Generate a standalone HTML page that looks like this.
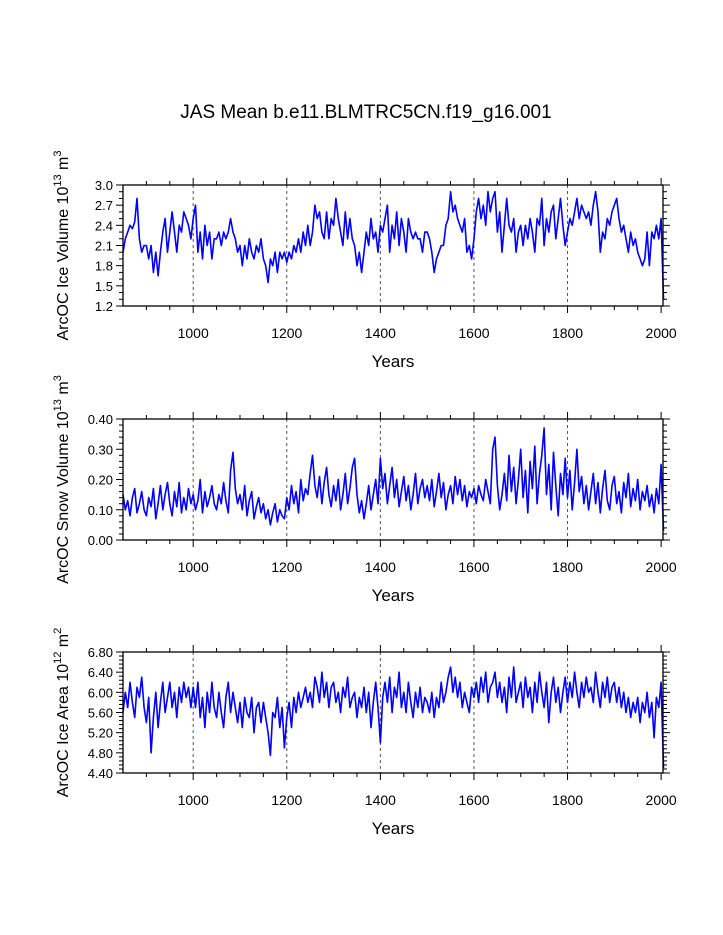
<!DOCTYPE html>
<html><head><meta charset="utf-8">
<style>
html,body{margin:0;padding:0;background:#fff;}
svg{display:block;font-family:"Liberation Sans",sans-serif;}
</style></head>
<body>
<svg id="chart" width="723" height="935" viewBox="0 0 723 935">
<text x="366" y="118" font-size="19" text-anchor="middle">JAS Mean b.e11.BLMTRC5CN.f19_g16.001</text>
</svg>
<script>
const startYear = 850;
const stepYears = 5;
const iceVolume = [
2.0,2.2,2.3,2.4,2.35,2.45,2.8,2.2,2.0,2.1,
2.1,1.9,2.1,1.7,2.0,1.65,2.0,2.3,2.5,2.0,
2.3,2.6,2.3,2.0,2.4,2.3,2.6,2.5,2.4,2.2,
2.5,2.7,2.0,2.3,1.9,2.4,2.1,2.3,1.9,2.2,
2.2,2.3,2.1,2.3,2.2,2.3,2.5,2.3,2.2,2.0,
2.1,1.8,2.1,1.9,2.2,2.0,1.9,2.1,2.0,2.2,
1.9,1.8,1.55,1.9,1.8,2.0,1.7,2.0,1.9,2.0,
1.85,2.0,1.9,2.1,2.0,2.2,2.0,2.3,2.1,2.4,
2.1,2.3,2.7,2.5,2.6,2.3,2.2,2.6,2.2,2.5,
2.4,2.8,2.5,2.3,2.1,2.6,2.2,2.5,2.2,2.1,
1.8,2.0,1.7,2.0,2.3,2.1,2.5,2.2,2.3,2.0,
2.4,2.3,2.5,2.7,2.0,2.4,2.2,2.6,2.1,2.5,
2.3,2.0,2.5,2.3,2.2,2.3,2.2,2.2,2.0,2.3,
2.3,2.2,2.0,1.7,1.9,2.0,2.1,2.1,2.4,2.5,
2.9,2.6,2.7,2.5,2.4,2.3,2.5,2.0,2.1,1.9,
2.2,2.6,2.8,2.5,2.7,2.4,2.9,2.6,2.8,2.9,
2.3,2.6,2.0,2.4,2.8,2.4,2.3,2.5,2.0,2.3,
2.4,2.1,2.4,2.2,2.5,2.3,2.0,2.5,2.4,2.8,
2.1,2.5,2.3,2.6,2.7,2.2,2.5,2.8,2.4,2.1,
2.3,2.5,2.4,2.6,2.8,2.5,2.7,2.6,2.5,2.6,
2.4,2.7,2.9,2.6,2.0,2.3,2.2,2.5,2.4,2.6,
2.7,2.8,2.5,2.3,2.4,2.2,2.0,2.3,2.1,2.2,
2.0,1.9,1.8,1.9,2.3,1.8,2.3,2.2,2.4,2.2,
2.5,1.3];
const snowVolume = [
.15,.10,.13,.08,.14,.17,.09,.12,.16,.10,
.08,.14,.11,.17,.07,.12,.18,.10,.15,.19,
.12,.08,.16,.11,.19,.09,.14,.10,.17,.12,
.15,.10,.13,.20,.09,.16,.11,.14,.18,.12,
.10,.15,.12,.19,.13,.09,.23,.29,.17,.12,
.15,.10,.18,.08,.13,.16,.07,.11,.14,.09,
.12,.07,.10,.05,.09,.12,.06,.10,.08,.07,
.14,.10,.18,.12,.16,.09,.20,.13,.17,.15,
.22,.28,.18,.14,.21,.12,.19,.24,.15,.11,
.18,.13,.20,.10,.15,.22,.12,.17,.24,.27,
.15,.09,.13,.07,.12,.18,.10,.15,.20,.12,
.27,.17,.22,.12,.18,.24,.14,.20,.11,.16,
.21,.13,.18,.10,.15,.22,.12,.17,.20,.14,
.18,.13,.20,.11,.16,.22,.14,.19,.10,.15,
.18,.12,.21,.15,.20,.13,.18,.11,.16,.14,
.17,.12,.18,.15,.13,.20,.16,.12,.30,.34,
.18,.10,.15,.22,.13,.28,.16,.24,.12,.20,
.30,.14,.23,.09,.26,.17,.31,.12,.22,.28,
.37,.15,.25,.10,.29,.18,.08,.22,.15,.27,
.14,.23,.10,.19,.30,.16,.21,.12,.18,.10,
.16,.22,.12,.19,.09,.17,.23,.13,.10,.18,
.21,.12,.16,.09,.19,.14,.22,.11,.17,.13,
.20,.10,.16,.13,.18,.11,.15,.09,.17,.12,
.25,.03];
const iceArea = [
5.6,6.0,5.7,6.2,5.8,5.5,6.1,5.9,6.3,5.7,
5.4,5.9,4.8,5.5,6.0,5.3,5.8,6.2,5.6,5.9,
6.2,5.7,6.0,5.5,6.1,5.8,6.2,5.9,6.1,5.7,
6.1,5.7,6.2,5.5,5.9,5.3,6.0,5.6,6.2,5.7,
5.5,6.0,5.6,5.3,5.9,6.2,5.6,6.0,5.7,5.4,
5.8,5.3,5.9,5.6,5.5,5.9,5.2,5.7,5.8,5.4,
5.8,5.5,5.2,4.75,5.6,5.5,5.9,5.3,5.7,4.9,
5.5,5.8,5.3,5.9,5.6,6.0,5.7,5.9,6.1,5.8,
6.0,5.7,6.3,6.1,5.8,6.4,5.9,6.2,5.7,6.1,
6.2,5.8,6.0,5.6,6.1,5.9,6.3,5.7,5.9,6.0,
5.5,5.9,5.7,6.1,5.6,6.0,5.3,5.8,6.2,5.7,
5.0,5.9,6.2,5.8,6.3,5.6,6.1,5.9,6.4,5.7,
6.0,5.6,6.2,5.8,5.5,6.0,5.7,6.1,5.6,5.9,
5.8,5.6,6.0,5.5,5.9,5.7,6.2,5.8,6.0,6.3,
6.5,6.0,6.3,5.9,6.2,5.7,6.0,5.8,5.6,6.1,
5.9,6.2,5.8,6.3,6.0,6.4,5.8,6.1,6.2,6.4,
5.9,6.2,5.8,6.1,5.6,6.3,5.9,6.5,5.8,6.0,
6.2,5.7,6.3,5.9,6.1,5.6,6.2,5.8,6.4,6.0,
5.7,6.2,5.4,6.0,6.3,5.8,6.1,5.6,6.0,6.3,
5.8,6.2,5.9,6.4,6.0,5.7,6.2,5.9,6.3,6.0,
6.1,5.8,6.4,6.0,5.7,6.2,5.9,6.3,5.8,6.1,
6.2,5.8,6.1,5.7,6.0,5.6,5.9,5.5,5.8,5.6,
5.9,5.4,5.8,5.6,6.0,5.5,5.8,5.1,5.9,5.7,
6.2,4.5];
const xTickLabels = ["1000","1200","1400","1600","1800","2000"];
const volTickLabels = ["1.2","1.5","1.8","2.1","2.4","2.7","3.0"];
const snowTickLabels = ["0.00","0.10","0.20","0.30","0.40"];
const areaTickLabels = ["4.40","4.80","5.20","5.60","6.00","6.40","6.80"];

const NS = "http://www.w3.org/2000/svg";
const svg = document.getElementById("chart");
const X0 = 123, X1 = 663, XMIN = 850, XMAX = 2004;
function xs(yr){ return X0 + (yr - XMIN) / (XMAX - XMIN) * (X1 - X0); }
function mk(tag, attrs, parent){ const e = document.createElementNS(NS, tag); for (const k in attrs) e.setAttribute(k, attrs[k]); (parent||svg).appendChild(e); return e; }

function panel(name, top, data, ticks, minorStep, titleHTML){
  const bot = top + 121;
  const lo = parseFloat(ticks[0]), hi = parseFloat(ticks[ticks.length-1]);
  const ys = v => bot - (v - lo) / (hi - lo) * (bot - top);
  const g = mk("g", {});
  
  
  for (const t of xTickLabels) {
    const yr = parseFloat(t);
    if (yr >= 2000) continue;
    const l = mk("line", {x1: xs(yr), x2: xs(yr), y1: top, y2: bot, stroke: "#555", "stroke-width": 1, "stroke-dasharray": "3,3"}, g);
    
    
  }
  let d = "";
  data.forEach((v, i) => { d += (i ? "L" : "M") + xs(startYear + i*stepYears).toFixed(1) + "," + ys(v).toFixed(1); });
  const p = mk("path", {d: d, fill: "none", stroke: "#0000ff", "stroke-width": 1.6, "stroke-linejoin": "round"}, g);
  
  
  const r = mk("rect", {x: X0, y: top, width: X1 - X0, height: bot - top, fill: "none", stroke: "#000", "stroke-width": 1.3}, g);
  
  
  for (let yr = 900; yr <= 2000; yr += 50) {
    const major = yr % 200 === 0;
    const len = major ? 7 : 4;
    mk("line", {x1: xs(yr), x2: xs(yr), y1: bot, y2: bot + len, stroke: "#000"}, g);
    mk("line", {x1: xs(yr), x2: xs(yr), y1: top, y2: top - len, stroke: "#000"}, g);
  }
  for (const t of xTickLabels) {
    const tx = mk("text", {x: xs(parseFloat(t)), y: bot + 32, "font-size": 14, "text-anchor": "middle"}, g);
    tx.textContent = t;
    
    
  }
  const yl = mk("text", {x: 393, y: bot + 61, "font-size": 17, "text-anchor": "middle"}, g);
  yl.textContent = "Years";
  
  
  const nMinor = Math.round((hi - lo) / minorStep);
  for (let i = 0; i <= nMinor; i++) {
    const v = lo + i * minorStep, y = ys(v);
    const major = ticks.some(t => Math.abs(parseFloat(t) - v) < 1e-6);
    const len = major ? 7 : 4;
    mk("line", {x1: X0, x2: X0 - len, y1: y, y2: y, stroke: "#000"}, g);
    mk("line", {x1: X1, x2: X1 + len, y1: y, y2: y, stroke: "#000"}, g);
  }
  for (const t of ticks) {
    const tx = mk("text", {x: X0 - 10, y: ys(parseFloat(t)) + 5, "font-size": 13, "text-anchor": "end"}, g);
    tx.textContent = t;
    
    
  }
  const yt = mk("text", {transform: `translate(68,${(top+bot)/2}) rotate(-90)`, "font-size": 16, "text-anchor": "middle"}, g);
  yt.innerHTML = titleHTML;
  
  
}
panel("ice-volume", 185, iceVolume, volTickLabels, 0.1, 'ArcOC Ice Volume 10<tspan dy="-7" font-size="11">13</tspan><tspan dy="7"> m</tspan><tspan dy="-7" font-size="11">3</tspan>');
panel("snow-volume", 419, snowVolume, snowTickLabels, 0.02, 'ArcOC Snow Volume 10<tspan dy="-7" font-size="11">13</tspan><tspan dy="7"> m</tspan><tspan dy="-7" font-size="11">3</tspan>');
panel("ice-area", 652, iceArea, areaTickLabels, 0.08, 'ArcOC Ice Area 10<tspan dy="-7" font-size="11">12</tspan><tspan dy="7"> m</tspan><tspan dy="-7" font-size="11">2</tspan>');
</script>
</body></html>
